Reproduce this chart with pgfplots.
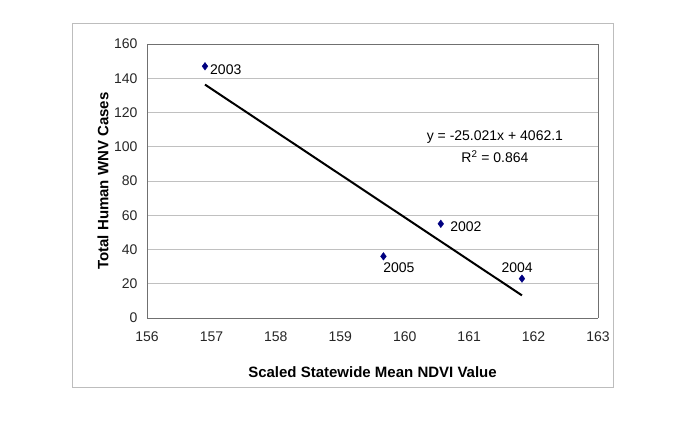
\documentclass[border=0pt]{standalone}
\usepackage{pgfplots}
\pgfplotsset{compat=1.18}
\usepackage{fontspec}
\setmainfont{Liberation Sans}
\definecolor{gridgray}{HTML}{C0C0C0}
\definecolor{framegray}{HTML}{A0A0A0}
\definecolor{axisdark}{HTML}{707070}
\definecolor{boxgray}{HTML}{BDBDBD}
\definecolor{navy}{HTML}{000080}
\begin{document}
\begin{tikzpicture}
\useasboundingbox (-147bp,-122bp) rectangle (538bp,318bp);
\draw[boxgray, line width=0.8bp] (-75bp,-69bp) rectangle (466bp,295bp);
\begin{axis}[
  at={(0,0)}, anchor=origin,
  scale only axis,
  width=451bp, height=274bp,
  xmin=156, xmax=163, ymin=0, ymax=160,
  xtick={156,157,...,163},
  ytick={0,20,...,160},
  major tick length=0pt,
  ymajorgrids,
  grid style={gridgray, line width=0.6bp},
  axis line style={framegray, line width=0.8bp},
  separate axis lines,
  every outer x axis line/.append style={axisdark},
  every outer y axis line/.append style={axisdark},
  axis x line*=box, axis y line*=box,
  tick label style={font=\fontsize{14bp}{16bp}\selectfont, text=black!85},
  /pgf/number format/assume math mode=true,
  xticklabel style={yshift=-10bp},
  yticklabel style={xshift=-6bp},
  xlabel={\textbf{Scaled Statewide Mean NDVI Value}},
  ylabel={\textbf{Total Human WNV Cases}},
  label style={font=\fontsize{15bp}{17bp}\selectfont},
  xlabel style={at={(axis description cs:0.5,-0.197)}, anchor=center},
  ylabel style={at={(axis description cs:-0.0976,0.5)}, anchor=center, rotate=0},
  clip=false,
]
\addplot[only marks, mark=diamond*, mark size=3.8bp, color=navy] coordinates {
  (156.9,147) (160.56,55) (159.67,36) (161.82,23)
};
\addplot[black, line width=2bp] coordinates {
  (156.9,136.30) (161.82,13.20)
};
\node[anchor=west, inner sep=0pt, font=\fontsize{14bp}{16bp}\selectfont] at (axis cs:156.978,144.8) {2003};
\node[anchor=west, inner sep=0pt, font=\fontsize{14bp}{16bp}\selectfont] at (axis cs:160.705,53.1) {2002};
\node[anchor=west, inner sep=0pt, font=\fontsize{14bp}{16bp}\selectfont] at (axis cs:159.665,29.2) {2005};
\node[anchor=center, inner sep=0pt, font=\fontsize{14bp}{16bp}\selectfont] at (axis cs:161.745,29.2) {2004};
\node[anchor=center, inner sep=0pt, font=\fontsize{14bp}{16bp}\selectfont] at (axis cs:161.40,105.7) {y = -25.021x + 4062.1};
\node[anchor=center, inner sep=0pt, font=\fontsize{14bp}{16bp}\selectfont] at (axis cs:161.40,94.0) {R\textsuperscript{2} = 0.864};
\end{axis}
\end{tikzpicture}
\end{document}
